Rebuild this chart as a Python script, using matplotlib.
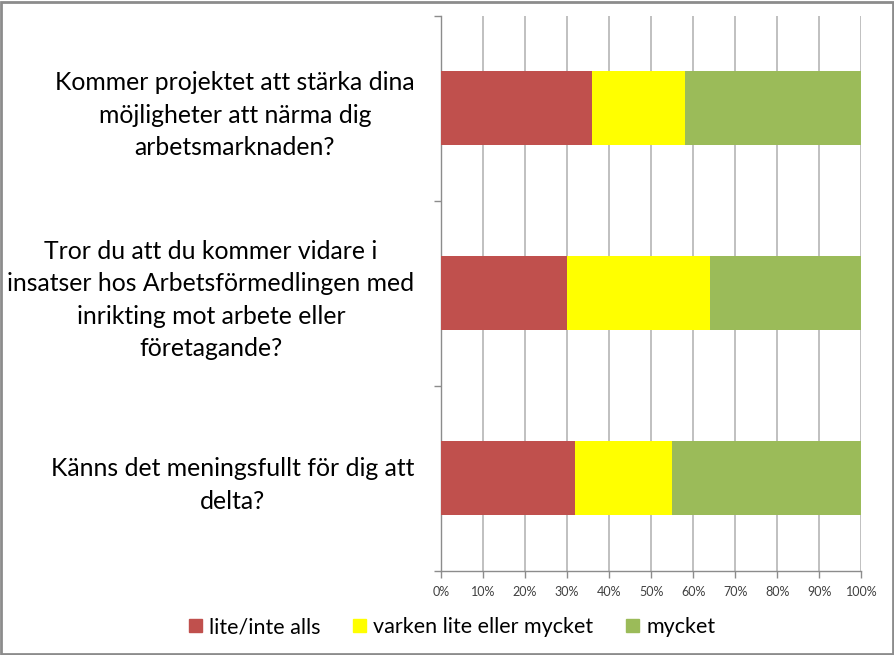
import matplotlib
matplotlib.use("Agg")
import matplotlib.pyplot as plt
from matplotlib.patches import Rectangle
import numpy as np

plt.rcParams['font.family'] = ['Lato', 'DejaVu Sans']

categories = [
    "Kommer projektet att stärka dina\nmöjligheter att närma dig\narbetsmarknaden?",
    "Tror du att du kommer vidare i\ninsatser hos Arbetsförmedlingen med\ninrikting mot arbete eller\nföretagande?",
    "Känns det meningsfullt för dig att\ndelta?",
]
series_names = ["lite/inte alls", "varken lite eller mycket", "mycket"]
lite = [0.36, 0.30, 0.32]
varken = [0.22, 0.34, 0.23]
mycket = [0.42, 0.36, 0.45]
colors = ["#C0504D", "#FFFF00", "#9BBB59"]
xtick_labels = ["0%", "10%", "20%", "30%", "40%", "50%", "60%", "70%", "80%", "90%", "100%"]

fig = plt.figure(figsize=(8.95, 6.55), dpi=100)
ax = fig.add_axes([441/895, 1-570.7/655, (861.3-441)/895, (570.7-16)/655])

y = np.arange(len(categories))
left = np.zeros(len(categories))
for vals, c in zip([lite, varken, mycket], colors):
    ax.barh(y, vals, left=left, height=0.4, color=c, zorder=3)
    left += np.array(vals)

ax.set_xlim(0, 1)
ax.set_ylim(len(categories)-0.5, -0.5)
ax.set_xticks(np.linspace(0, 1, 11))
ax.set_xticklabels(xtick_labels, fontsize=9, color="#404040")
ax.grid(axis='x', color="#b5b5b5", linewidth=1.2, zorder=0)

ax.set_yticks(np.arange(len(categories)+1) - 0.5)
ax.set_yticklabels([])
ax.set_yticks(y, minor=True)
ax.set_yticklabels(categories, minor=True, fontsize=17.8, color="black")
for lbl in ax.get_yticklabels(minor=True):
    lbl.set_multialignment('center')
    lbl.set_linespacing(1.5)
ax.tick_params(axis='y', which='minor', length=0, pad=19)
ax.tick_params(axis='y', which='major', length=5, color="#8c8c8c", width=1)
ax.tick_params(axis='x', length=5, color="#8c8c8c", width=1, pad=6)

for s in ['top', 'right']:
    ax.spines[s].set_visible(False)
for s in ['left', 'bottom']:
    ax.spines[s].set_color("#8c8c8c")
    ax.spines[s].set_linewidth(1)

handles = [Rectangle((0, 0), 1, 1, color=c) for c in colors]
fig.legend(handles, series_names, loc='center', bbox_to_anchor=(452/895, 1-627/655),
           ncol=3, frameon=False, fontsize=15.5, handlelength=0.6, handleheight=0.6,
           handletextpad=0.35, columnspacing=1.5)

fig.patches.append(Rectangle((0.001, 0.0015), 0.997, 0.996, transform=fig.transFigure,
                             fill=False, edgecolor="#8c8c8c", linewidth=2))

fig.savefig("out.png", dpi=100)
